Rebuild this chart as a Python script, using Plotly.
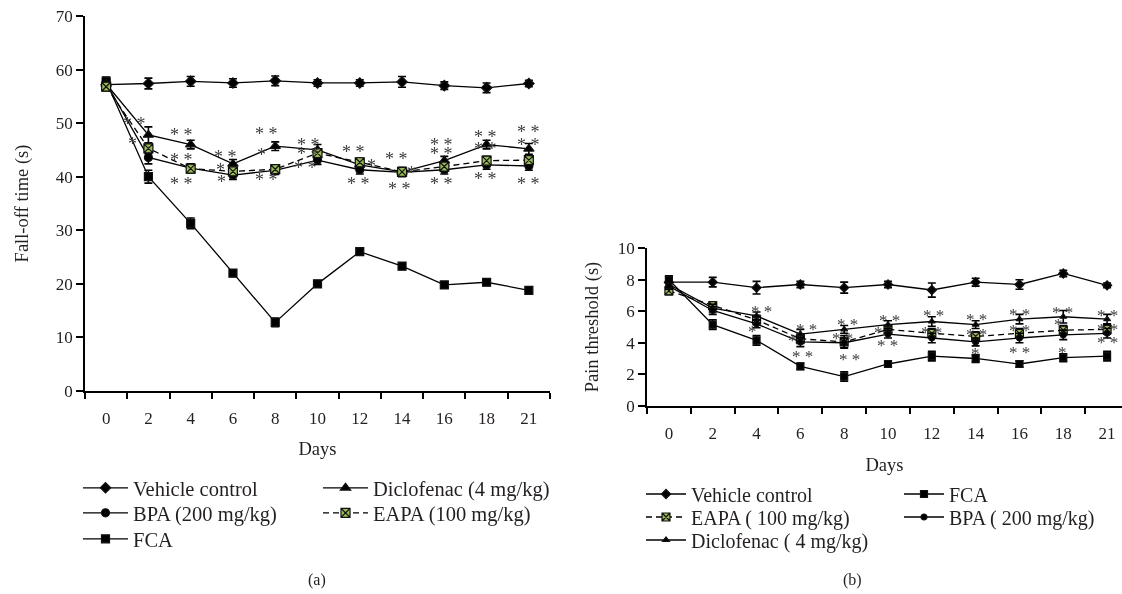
import plotly.graph_objects as go

# ---------------- data ----------------
days = ["0", "2", "4", "6", "8", "10", "12", "14", "16", "18", "21"]

# Panel (a): fall-off time (s)
a_vehicle = [57.2, 57.4, 57.8, 57.5, 57.9, 57.5, 57.5, 57.7, 57.0, 56.6, 57.4]
a_vehicle_err = [0.8, 1.0, 0.9, 0.8, 0.9, 0.6, 0.6, 1.0, 0.7, 0.9, 0.6]
a_bpa = [57.5, 43.6, 41.6, 40.3, 41.2, 43.1, 41.3, 40.8, 41.3, 42.2, 42.0]
a_bpa_err = [0.8, 1.2, 0.8, 0.8, 0.8, 0.8, 0.8, 0.8, 0.8, 0.8, 0.8]
a_fca = [57.8, 40.0, 31.3, 22.0, 12.8, 20.0, 26.0, 23.3, 19.8, 20.3, 18.8]
a_fca_err = [0.8, 1.2, 1.0, 0.6, 0.8, 0.6, 0.6, 0.6, 0.6, 0.6, 0.6]
a_dic = [57.3, 47.8, 46.0, 42.4, 45.7, 45.0, 42.2, 40.9, 43.0, 46.0, 45.2]
a_dic_err = [0.8, 1.5, 0.8, 0.8, 0.8, 1.0, 0.8, 0.8, 0.8, 0.8, 1.0]
a_eapa = [56.8, 45.3, 41.5, 41.0, 41.4, 44.4, 42.7, 40.9, 41.9, 43.0, 43.1]
a_eapa_err = [0.8, 1.0, 0.8, 0.8, 0.8, 0.8, 0.8, 0.8, 0.8, 0.8, 0.8]

# Panel (b): pain threshold (s)
b_vehicle = [7.85, 7.85, 7.5, 7.7, 7.5, 7.7, 7.35, 7.85, 7.7, 8.4, 7.65]
b_vehicle_err = [0.3, 0.3, 0.4, 0.2, 0.35, 0.2, 0.45, 0.25, 0.3, 0.2, 0.15]
b_fca = [8.0, 5.15, 4.15, 2.5, 1.85, 2.65, 3.15, 3.0, 2.65, 3.05, 3.15]
b_fca_err = [0.25, 0.3, 0.3, 0.2, 0.3, 0.15, 0.3, 0.25, 0.2, 0.25, 0.3]
b_eapa = [7.3, 6.35, 5.45, 4.25, 4.05, 4.85, 4.6, 4.4, 4.6, 4.8, 4.85]
b_eapa_err = [0.25, 0.25, 0.3, 0.3, 0.4, 0.25, 0.3, 0.3, 0.3, 0.3, 0.3]
b_bpa = [7.6, 6.05, 5.2, 4.05, 4.0, 4.55, 4.3, 4.05, 4.3, 4.5, 4.6]
b_bpa_err = [0.2, 0.25, 0.25, 0.3, 0.3, 0.25, 0.3, 0.25, 0.3, 0.3, 0.3]
b_dic = [7.7, 6.2, 5.7, 4.55, 4.85, 5.15, 5.35, 5.15, 5.5, 5.65, 5.5]
b_dic_err = [0.2, 0.25, 0.25, 0.3, 0.25, 0.25, 0.3, 0.25, 0.3, 0.4, 0.3]

# significance marks: (day index, value, text)
sig_a = [
    (0.66, 50.7, "* *"), (0.62, 47.0, "*"),
    (1.79, 48.7, "* *"), (1.78, 44.1, "* *"), (1.79, 39.5, "* *"),
    (2.83, 44.7, "* *"), (2.70, 42.2, "*"), (2.74, 39.9, "*"),
    (3.80, 49.0, "* *"), (3.68, 44.9, "*"), (3.80, 40.3, "* *"),
    (4.78, 46.8, "* *"), (4.78, 45.1, "* *"), (4.72, 42.5, "* *"),
    (5.86, 45.5, "* *"), (6.28, 43.0, "*"), (5.96, 39.5, "* *"),
    (6.86, 44.2, "* *"), (7.23, 41.6, "*"), (6.95, 38.7, "* *"),
    (7.94, 46.9, "* *"), (7.94, 45.1, "* *"), (7.94, 39.5, "* *"),
    (8.98, 48.4, "* *"), (8.98, 46.2, "* *"), (8.98, 40.5, "* *"),
    (9.98, 49.2, "* *"), (9.98, 46.9, "* *"), (9.98, 39.6, "* *"),
]
sig_b = [
    (2.12, 6.25, "* *"), (1.90, 5.0, "*"),
    (3.13, 5.08, "* *"), (2.82, 4.42, "*"), (3.04, 3.37, "* *"),
    (4.07, 5.44, "* *"), (3.95, 4.55, "* *"), (4.13, 3.16, "* *"),
    (5.03, 5.65, "* *"), (4.79, 4.91, "*"), (4.98, 4.06, "* *"),
    (6.04, 5.97, "* *"), (6.00, 4.91, "* *"),
    (7.03, 5.70, "* *"), (7.01, 4.76, "* *"), (7.00, 3.54, "*"),
    (8.00, 6.08, "* *"), (8.00, 5.06, "* *"), (8.00, 3.64, "* *"),
    (8.99, 6.18, "* *"), (8.90, 5.40, "*"), (8.99, 3.64, "*"),
    (10.0, 6.00, "* *"), (10.0, 5.10, "* *"), (10.0, 4.30, "* *"),
]

# ---------------- figure ----------------
FONT = "Liberation Serif"
TXT = "#231f20"
GREEN = "#9bbb59"
W, H = 1122, 594
x_idx = list(range(len(days)))

fig = go.Figure()
legend_layout = {}


def add_series(name, y, err, xa, ya, legend, lx, ly, lsize, iw, symbol, size,
               dash="solid", fill="black"):
    fig.add_trace(go.Scatter(
        x=x_idx, y=y, name=name, mode="lines+markers",
        xaxis=xa, yaxis=ya, legend=legend,
        line=dict(color="black", width=1.3, dash=dash),
        marker=dict(symbol=symbol, size=size, color=fill,
                    line=dict(color="#111111", width=1.2)),
        error_y=dict(type="data", array=err, color="black",
                     thickness=1.6, width=4),
        hoverinfo="skip",
    ))
    legend_layout[legend] = dict(
        x=lx / W, y=(H - ly) / H, xanchor="left", yanchor="middle",
        orientation="v", bgcolor="rgba(0,0,0,0)", itemwidth=iw,
        font=dict(family=FONT, size=lsize, color=TXT))


# panel (a)
add_series("Vehicle control", a_vehicle, a_vehicle_err, "x", "y", "legend", 78, 488, 20.5, 45, "diamond", 8)
add_series("BPA (200 mg/kg)", a_bpa, a_bpa_err, "x", "y", "legend2", 78, 513, 20.5, 45, "circle", 8)
add_series("FCA", a_fca, a_fca_err, "x", "y", "legend3", 78, 539, 20.5, 45, "square", 8)
add_series("Diclofenac (4 mg/kg)", a_dic, a_dic_err, "x", "y", "legend4", 318, 488, 20.5, 45, "triangle-up", 9)
add_series("EAPA (100 mg/kg)", a_eapa, a_eapa_err, "x", "y", "legend5", 318, 513, 20.5, 45, "square-x", 9,
           dash="6px,4px", fill=GREEN)

# panel (b)
add_series("Vehicle control", b_vehicle, b_vehicle_err, "x2", "y2", "legend6", 641, 494, 20, 40, "diamond", 7)
add_series("EAPA ( 100 mg/kg)", b_eapa, b_eapa_err, "x2", "y2", "legend7", 641, 517, 20, 40, "square-x", 8,
           dash="6px,4px", fill=GREEN)
add_series("Diclofenac ( 4 mg/kg)", b_dic, b_dic_err, "x2", "y2", "legend8", 641, 540, 20, 40, "triangle-up", 6)
add_series("FCA", b_fca, b_fca_err, "x2", "y2", "legend9", 899, 494, 20, 40, "square", 7)
add_series("BPA ( 200 mg/kg)", b_bpa, b_bpa_err, "x2", "y2", "legend10", 899, 517, 20, 40, "circle", 6)

AST = "#3c3c3c"
annotations = []
for xv, yv, t in sig_a:
    annotations.append(dict(x=xv, y=yv, xref="x", yref="y", text=t, showarrow=False,
                            yshift=-5, font=dict(family=FONT, size=18, color=AST)))
for xv, yv, t in sig_b:
    annotations.append(dict(x=xv, y=yv, xref="x2", yref="y2", text=t, showarrow=False,
                            yshift=-4, font=dict(family=FONT, size=17, color=AST)))
annotations += [
    dict(text="(a)", x=317 / W, y=(H - 580) / H, xref="paper", yref="paper",
         xanchor="center", yanchor="middle", showarrow=False,
         font=dict(family=FONT, size=16, color=TXT)),
    dict(text="(b)", x=852 / W, y=(H - 580) / H, xref="paper", yref="paper",
         xanchor="center", yanchor="middle", showarrow=False,
         font=dict(family=FONT, size=16, color=TXT)),
]

tickfont = dict(family=FONT, size=17, color=TXT)
titlefont = dict(family=FONT, size=18.5, color=TXT)


def xaxis_cfg(dom, rng, anchor, standoff):
    return dict(
        domain=dom, range=rng, anchor=anchor, automargin=False,
        tickmode="array", tickvals=x_idx, ticktext=days, ticks="",
        ticklabelstandoff=11,
        minor=dict(tickmode="array", tickvals=[i - 0.5 for i in range(len(days) + 1)],
                   ticks="outside", ticklen=6, tickwidth=1.5, tickcolor="black"),
        showline=True, linecolor="black", linewidth=1.8,
        showgrid=False, zeroline=False, tickfont=tickfont,
        title=dict(text="Days", font=titlefont, standoff=standoff),
    )


def yaxis_cfg(dom, rng, dtick, anchor, title, standoff):
    return dict(
        domain=dom, range=rng, dtick=dtick, anchor=anchor, automargin=False,
        ticks="outside", ticklen=7, tickwidth=1.5, tickcolor="black",
        showline=True, linecolor="black", linewidth=1.8,
        showgrid=False, zeroline=False, tickfont=tickfont,
        title=dict(text=title, font=titlefont, standoff=standoff),
    )


fig.update_layout(
    width=W, height=H,
    margin=dict(l=0, r=0, t=0, b=0, autoexpand=False),
    paper_bgcolor="rgba(255,255,255,0)", plot_bgcolor="rgba(255,255,255,0)",
    showlegend=True,
    xaxis=xaxis_cfg([85 / W, 550 / W], [-0.5, 10.5], "y", 15),
    yaxis=yaxis_cfg([(H - 391) / H, (H - 16) / H], [0, 70], 10, "x", "Fall-off time (s)", 22),
    xaxis2=xaxis_cfg([647 / W, 1.0], [-0.5, 10.34], "y2", 16),
    yaxis2=yaxis_cfg([(H - 405.7) / H, (H - 248.3) / H], [0, 10], 2, "x2", "Pain threshold (s)", 14),
    annotations=annotations,
    **legend_layout,
)

post = (
    "document.body.style.margin='0';"
    "document.body.style.background='white';"
    "document.querySelectorAll('.main-svg').forEach(function(s){"
    "s.style.willChange='transform';});"
)
fig.write_html("out.html", post_script=post, config={"displayModeBar": False})
